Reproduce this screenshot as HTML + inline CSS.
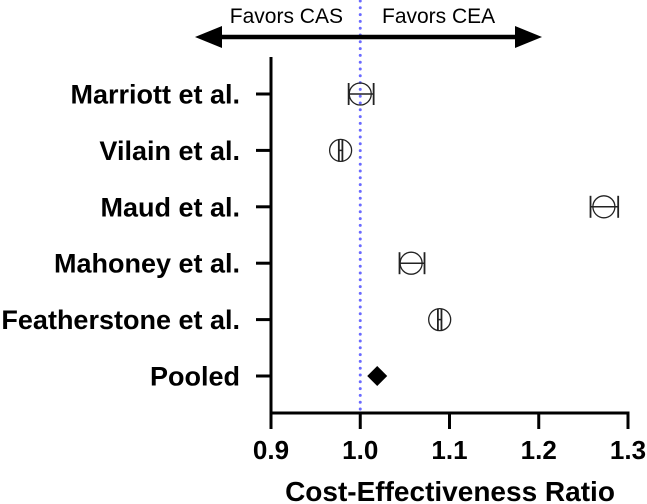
<!DOCTYPE html>
<html><head><meta charset="utf-8"><style>
html,body{margin:0;padding:0;background:#fff}
svg{display:block;font-family:"Liberation Sans",Arial,sans-serif}
</style></head><body>
<svg id="chart" width="647" height="504" viewBox="0 0 647 504">
<g id="g"></g>
</svg>
<script>
const categories = ["Marriott et al.","Vilain et al.","Maud et al.","Mahoney et al.","Featherstone et al.","Pooled"];
const estimates = [1.000,0.978,1.273,1.057,1.089,1.019];
const lowerCI = [0.987,0.976,1.258,1.044,1.087,null];
const upperCI = [1.015,0.980,1.289,1.072,1.091,null];
const xTicks = [0.9,1.0,1.1,1.2,1.3];
const xTickLabels = ["0.9","1.0","1.1","1.2","1.3"];

const NS="http://www.w3.org/2000/svg";
const g=document.getElementById('g');
const x0=271,x1=628,xmin=0.9,xmax=1.3;
const xs=v=>x0+(v-xmin)/(xmax-xmin)*(x1-x0);
const yTop=94,yStep=56.4;
const ys=i=>yTop+i*yStep;
const axisY=413;
function mk(t,a,txt){const e=document.createElementNS(NS,t);for(const k in a)e.setAttribute(k,a[k]);if(txt!=null)e.textContent=txt;g.appendChild(e);return e;}

// reference line
let e=mk('line',{x1:xs(1),x2:xs(1),y1:1,y2:axisY,stroke:'#6a6aff','stroke-width':3,'stroke-dasharray':'0 6.8','stroke-linecap':'round'});



// top arrow
e=mk('line',{x1:220,x2:516,y1:37,y2:37,stroke:'#000','stroke-width':4.5});


e=mk('polygon',{points:'195,37 222,26 222,48',fill:'#000'});


e=mk('polygon',{points:'542,37 515,26 515,48',fill:'#000'});


e=mk('text',{x:343,y:23,'text-anchor':'end','font-size':21},'Favors CAS');


e=mk('text',{x:382,y:23,'text-anchor':'start','font-size':21},'Favors CEA');



// axes
e=mk('line',{x1:x0,x2:x0,y1:57,y2:axisY+1.5,stroke:'#000','stroke-width':3});


e=mk('line',{x1:x0-1.5,x2:x1+1.5,y1:axisY,y2:axisY,stroke:'#000','stroke-width':3});



xTicks.forEach((v,i)=>{
  let t=mk('line',{x1:xs(v),x2:xs(v),y1:axisY,y2:429,stroke:'#000','stroke-width':3});
  
  
  t=mk('text',{x:xs(v),y:459,'text-anchor':'middle','font-size':26,'font-weight':'bold'},xTickLabels[i]);
  
  
});
e=mk('text',{x:450,y:501,'text-anchor':'middle','font-size':28,'font-weight':'bold'},'Cost-Effectiveness Ratio');



categories.forEach((c,i)=>{
  const y=ys(i);
  let t=mk('line',{x1:256,x2:x0,y1:y,y2:y,stroke:'#000','stroke-width':3});
  
  
  t=mk('text',{x:240,y:y+9.5,'text-anchor':'end','font-size':27,'font-weight':'bold'},c);
  
  
  const cx=xs(estimates[i]);
  if(lowerCI[i]==null){
    t=mk('polygon',{points:`${cx},${y-10} ${cx+10},${y} ${cx},${y+10} ${cx-10},${y}`,fill:'#000'});
    
    
  } else {
    const l=xs(lowerCI[i]),r=xs(upperCI[i]);
    t=mk('circle',{cx:cx,cy:y,r:11,fill:'none',stroke:'#222','stroke-width':1.3});
    
    
    t=mk('line',{x1:l,x2:r,y1:y,y2:y,stroke:'#222','stroke-width':1.5});
    
    
    [l,r].forEach(px=>{
      const cap=mk('line',{x1:px,x2:px,y1:y-11,y2:y+11,stroke:'#222','stroke-width':1.8});
      
      
    });
  }
});
</script>
</body></html>
